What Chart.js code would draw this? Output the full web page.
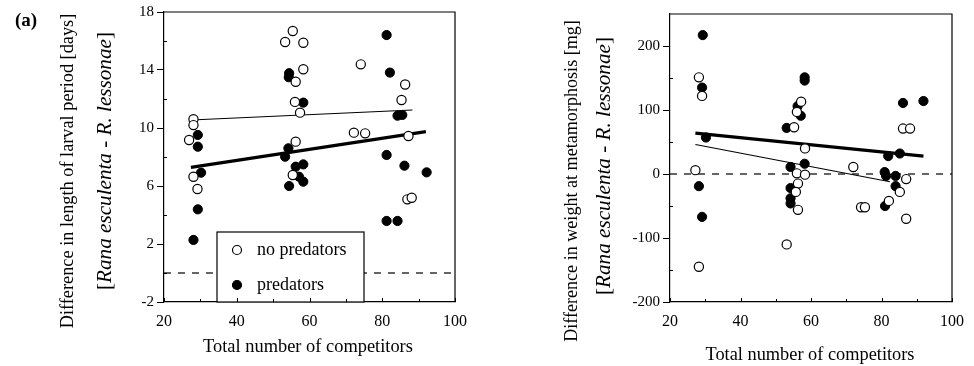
<!DOCTYPE html>
<html><head><meta charset="utf-8">
<script src="https://cdn.jsdelivr.net/npm/chart.js@4.4.1/dist/chart.umd.min.js"></script>
<style>
html,body{margin:0;padding:0;background:#fff;}
#wrap{position:relative;width:974px;height:366px;background:#fff;}
.c{position:absolute;top:0;width:487px;height:366px;}
</style></head><body>
<div id="wrap">
<div class="c" style="left:0"><canvas id="ca" width="487" height="366"></canvas></div>
<div class="c" style="left:487px"><canvas id="cb" width="487" height="366"></canvas></div>
</div>
<script>
// ---------- data ----------
const xTicks = [20, 40, 60, 80, 100];
const yTicksA = [-2, 2, 6, 10, 14, 18];
const yTicksB = [-200, -100, 0, 100, 200];

// Panel (a): difference in length of larval period [days]
const aNoPredX = [26.9, 28.1, 28.1, 28.1, 29.2, 53.3, 55.4, 58.3, 58.3, 56.2, 56.0, 57.4, 56.2, 55.4, 74.1, 72.2, 75.3, 86.3, 85.3, 87.2, 86.9, 88.1];
const aNoPredY = [9.17, 10.6, 10.2, 6.64, 5.79, 15.93, 16.69, 15.88, 14.05, 13.19, 11.8, 11.06, 9.06, 6.76, 14.39, 9.68, 9.63, 13.0, 11.93, 9.45, 5.08, 5.19];
const aPredX = [28.1, 29.3, 30.2, 29.3, 29.3, 54.4, 54.3, 58.3, 54.2, 53.3, 54.4, 56.2, 58.3, 57.1, 58.3, 81.2, 82.1, 84.2, 85.5, 81.2, 86.1, 92.2, 81.2, 84.2];
const aPredY = [2.28, 4.39, 6.92, 8.71, 9.52, 13.78, 13.5, 11.75, 8.6, 8.02, 6.0, 7.33, 7.49, 6.64, 6.3, 16.41, 13.82, 10.85, 10.9, 8.14, 7.4, 6.94, 3.59, 3.59];
const aFitNoPredX = [27.4, 88.3];
const aFitNoPredY = [10.55, 11.24];
const aFitPredX = [27.4, 92.0];
const aFitPredY = [7.29, 9.75];

// Panel (b): difference in weight at metamorphosis [mg]
const bNoPredX = [27.2, 28.2, 29.1, 28.2, 53.1, 55.2, 56.0, 57.2, 58.3, 56.0, 58.3, 56.3, 55.7, 56.3, 72.0, 74.2, 75.3, 82.1, 85.2, 87.0, 87.0, 86.1, 88.1];
const bNoPredY = [6, 151, 122, -145, -110, 73, 97, 113, 40, 1, -1, -15, -28, -56, 11, -52, -52, -42, -28, -8, -70, 71, 71];
const bPredX = [29.3, 29.1, 30.2, 28.2, 29.1, 53.1, 56.2, 57.1, 58.2, 58.2, 54.2, 54.2, 54.2, 54.2, 58.2, 80.9, 81.3, 81.9, 85.2, 84.0, 84.0, 81.0, 86.1, 91.9];
const bPredY = [217, 135, 57, -19, -67, 72, 106, 91, 151, 146, 11, -22, -38, -46, 16, 3, -3, 28, 32, -3, -19, -50, 111, 114];
const bFitNoPredX = [27.2, 82.4];
const bFitNoPredY = [46, -12];
const bFitPredX = [27.2, 91.9];
const bFitPredY = [64, 28];

const zeroLineY = [0, 0];
const legendLabels = ['no predators', 'predators'];
const xTitle = 'Total number of competitors';
const yTitleA = 'Difference in length of larval period [days]';
const yTitleB = 'Difference in weight at metamorphosis [mg]';
const speciesLine = [['[', false], ['Rana esculenta', true], [' - ', false], ['R. lessonae', true], [']', false]];

// ---------- helpers ----------
const FONT = '"Liberation Serif", "Times New Roman", serif';
const pts = (xs, ys) => xs.map((x, i) => ({x, y: ys[i]}));
const mids = arr => arr.slice(1).map((v, i) => (v + arr[i]) / 2);

function fitSize(ctx, segs, base, target) {
  let w = 0;
  segs.forEach(([t, it]) => { ctx.font = (it ? 'italic ' : '') + base + 'px ' + FONT; w += ctx.measureText(t).width; });
  return base * target / w;
}
function drawSegs(ctx, segs, size, cx, cy, rotate) {
  ctx.save();
  ctx.translate(cx, cy);
  if (rotate) ctx.rotate(-Math.PI / 2);
  let w = 0;
  segs.forEach(([t, it]) => { ctx.font = (it ? 'italic ' : '') + size + 'px ' + FONT; w += ctx.measureText(t).width; });
  let x = -w / 2;
  ctx.textBaseline = 'middle';
  ctx.textAlign = 'left';
  ctx.fillStyle = '#000';
  segs.forEach(([t, it]) => { ctx.font = (it ? 'italic ' : '') + size + 'px ' + FONT; ctx.fillText(t, x, 0); x += ctx.measureText(t).width; });
  ctx.restore();
}

const framePlugin = {
  id: 'frame',
  afterDatasetsDraw(chart, args, o) {
    const {ctx, chartArea: ca} = chart;
    ctx.save();
    if (o.legend) {
      const L = o.legend;
      ctx.fillStyle = '#fff';
      ctx.fillRect(L.left, L.top, L.right - L.left, ca.bottom - L.top);
      ctx.strokeStyle = '#000'; ctx.lineWidth = 1.2;
      ctx.strokeRect(L.left, L.top, L.right - L.left, ca.bottom - L.top);
      const rows = [[L.row1, '#fff'], [L.row2, '#000']];
      rows.forEach(([ry, fill], i) => {
        ctx.beginPath(); ctx.arc(L.left + 20, ry, 4.5, 0, Math.PI * 2);
        ctx.fillStyle = fill; ctx.fill(); ctx.lineWidth = 1.2; ctx.strokeStyle = '#000'; ctx.stroke();
        ctx.fillStyle = '#000'; ctx.font = '18px ' + FONT; ctx.textBaseline = 'middle'; ctx.textAlign = 'left';
        ctx.fillText(legendLabels[i], L.left + 40, ry);
      });
    }
    ctx.restore();
  },
  afterDraw(chart, args, o) {
    const {ctx, chartArea: ca, scales: {x, y}} = chart;
    ctx.save();
    ctx.strokeStyle = '#000'; ctx.lineWidth = 1.2;
    ctx.beginPath(); ctx.moveTo(ca.left, ca.top); ctx.lineTo(ca.right, ca.top); ctx.lineTo(ca.right, ca.bottom); ctx.stroke();
    ctx.lineWidth = 1;
    const seg = (x1, y1, x2, y2) => { ctx.beginPath(); ctx.moveTo(x1, y1); ctx.lineTo(x2, y2); ctx.stroke(); };
    o.xMajor.forEach(v => { const p = Math.round(x.getPixelForValue(v)) + 0.5; seg(p, ca.bottom, p, ca.bottom - 4); });
    mids(o.xMajor).forEach(v => { const p = Math.round(x.getPixelForValue(v)) + 0.5; seg(p, ca.bottom, p, ca.bottom - 3); });
    o.yMinor.forEach(v => { const p = Math.round(y.getPixelForValue(v)) + 0.5; seg(ca.left, p, ca.left + 3, p); });
    // panel label
    ctx.fillStyle = '#000'; ctx.textBaseline = 'middle'; ctx.textAlign = 'center';
    ctx.font = 'bold ' + o.tag.size + 'px ' + FONT;
    ctx.fillText(o.tag.text, o.tag.x, o.tag.y);
    // x title
    const xs = fitSize(ctx, [[xTitle, false]], 16, o.xt.w);
    drawSegs(ctx, [[xTitle, false]], xs, o.xt.x, o.xt.y, false);
    // y titles
    const s1 = fitSize(ctx, [[o.yt1.text, false]], 16, o.yt1.w);
    drawSegs(ctx, [[o.yt1.text, false]], s1, o.yt1.x, o.yt1.y, true);
    const s2 = fitSize(ctx, speciesLine, 17, o.yt2.w);
    drawSegs(ctx, speciesLine, s2, o.yt2.x, o.yt2.y, true);
    ctx.restore();
  }
};

function makeChart(id, d) {
  const datasets = [
    {type: 'scatter', data: pts(d.npx, d.npy), pointRadius: 4.6, pointHoverRadius: 4.6, backgroundColor: '#fff', borderColor: '#000', borderWidth: 1.2, order: 1},
    {type: 'scatter', data: pts(d.px, d.py), pointRadius: 4.6, pointHoverRadius: 4.6, backgroundColor: '#000', borderColor: '#000', borderWidth: 1, order: 2},
    {type: 'line', data: pts(d.fnpx, d.fnpy), borderColor: '#000', borderWidth: 1.1, pointRadius: 0, fill: false, order: 3},
    {type: 'line', data: pts(d.fpx, d.fpy), borderColor: '#000', borderWidth: 3.2, pointRadius: 0, fill: false, order: 4},
    {type: 'line', data: pts([xTicks[0], xTicks[xTicks.length - 1]], zeroLineY), borderColor: '#000', borderWidth: 1.2, borderDash: [7, 7], pointRadius: 0, fill: false, order: 5}
  ];
  return new Chart(document.getElementById(id), {
    type: 'scatter',
    data: {datasets},
    plugins: [framePlugin],
    options: {
      responsive: false, animation: false, devicePixelRatio: 1,
      layout: {padding: d.pad},
      plugins: {legend: {display: false}, tooltip: {enabled: false}, frame: d.frame},
      scales: {
        x: {
          type: 'linear', min: xTicks[0], max: xTicks[xTicks.length - 1],
          afterBuildTicks: s => { s.ticks = xTicks.map(v => ({value: v})); },
          afterFit: s => { s.height = 64; },
          grid: {display: false, drawTicks: false},
          border: {display: true, color: '#000', width: 1.2},
          ticks: {color: '#000', font: {family: FONT, size: 16}, padding: 10, maxRotation: 0}
        },
        y: {
          type: 'linear', min: d.ymin, max: d.ymax,
          afterBuildTicks: s => { s.ticks = d.yticks.map(v => ({value: v})); },
          afterFit: s => { s.width = d.yw; },
          grid: {display: true, drawOnChartArea: false, drawTicks: true, tickLength: 7, color: '#000', tickColor: '#000', lineWidth: 1},
          border: {display: true, color: '#000', width: 1.2},
          ticks: {color: '#000', font: {family: FONT, size: 15}, padding: 3}
        }
      }
    }
  });
}

makeChart('ca', {
  npx: aNoPredX, npy: aNoPredY, px: aPredX, py: aPredY,
  fnpx: aFitNoPredX, fnpy: aFitNoPredY, fpx: aFitPredX, fpy: aFitPredY,
  ymin: -2, ymax: 18, yticks: yTicksA, yw: 164,
  pad: {top: 12, right: 32, left: 0, bottom: 0},
  frame: {
    xMajor: xTicks, yMinor: mids(yTicksA),
    tag: {text: '(a)', size: 19, x: 26, y: 21},
    xt: {x: 308, y: 347, w: 210},
    yt1: {text: yTitleA, x: 68, y: 171, w: 315},
    yt2: {x: 105, y: 161, w: 258},
    legend: {left: 217, right: 364, top: 232, row1: 250, row2: 285}
  }
});

makeChart('cb', {
  npx: bNoPredX, npy: bNoPredY, px: bPredX, py: bPredY,
  fnpx: bFitNoPredX, fnpy: bFitNoPredY, fpx: bFitPredX, fpy: bFitPredY,
  ymin: -200, ymax: 250, yticks: yTicksB, yw: 183,
  pad: {top: 14, right: 13, left: 0, bottom: 0},
  frame: {
    xMajor: xTicks, yMinor: mids(yTicksB),
    tag: {text: '(b)', size: 21, x: 518, y: 25},
    xt: {x: 323, y: 355, w: 209},
    yt1: {text: yTitleB, x: 85, y: 181, w: 322},
    yt2: {x: 117, y: 166, w: 258},
    legend: null
  }
});
</script>
</body></html>
